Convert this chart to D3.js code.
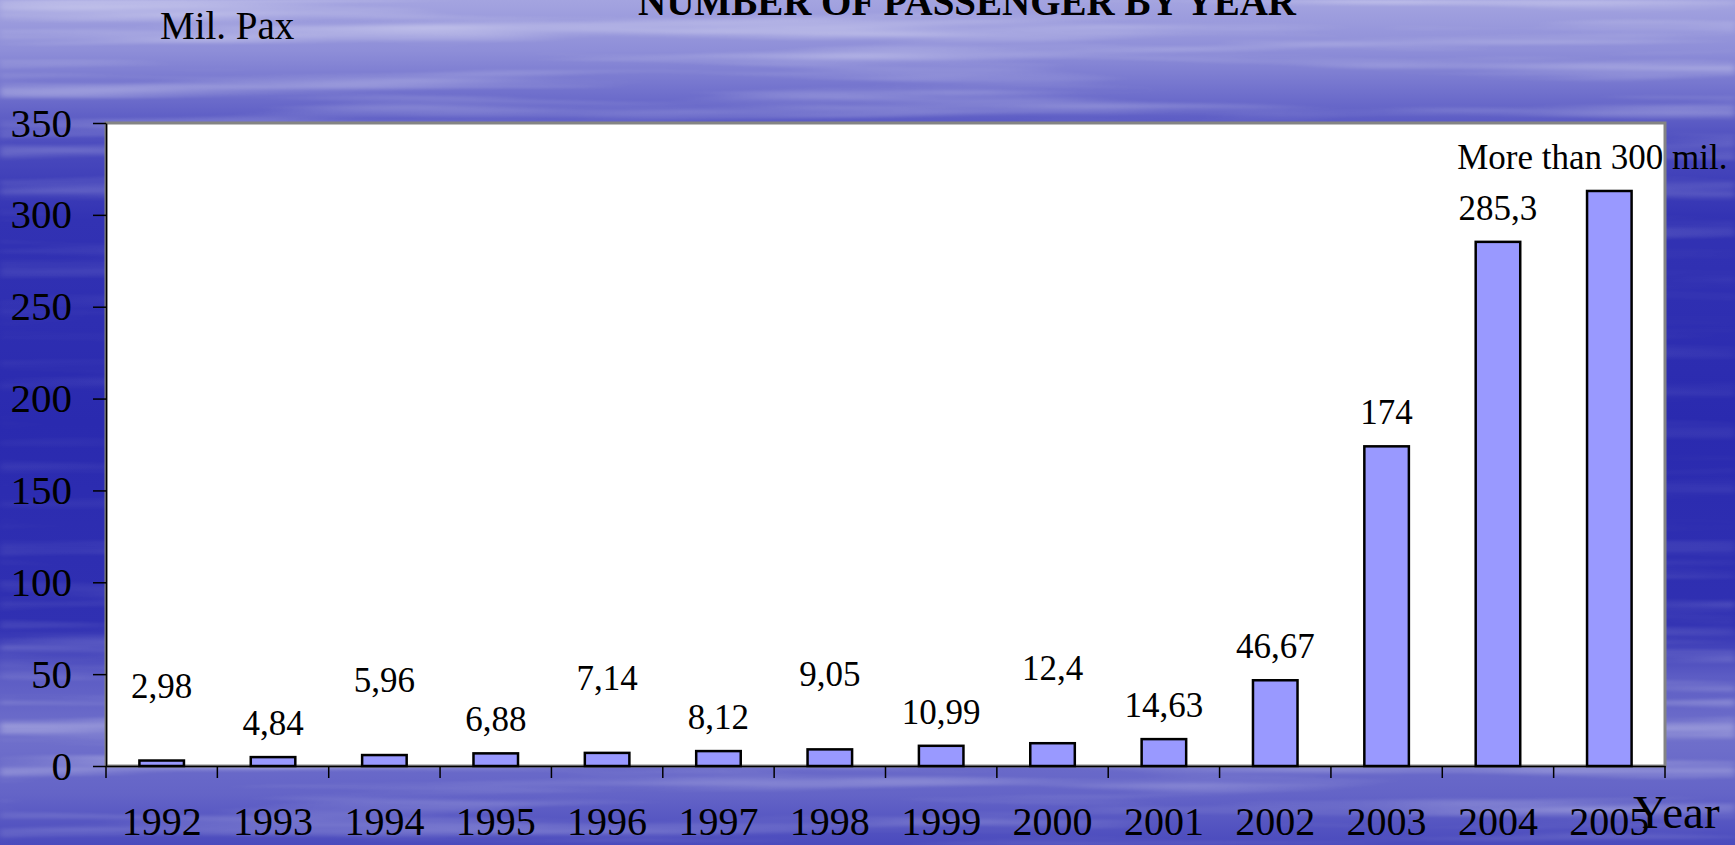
<!DOCTYPE html>
<html>
<head>
<meta charset="utf-8">
<script src="https://cdn.jsdelivr.net/npm/d3@7"></script>
<style>
  html, body { margin: 0; padding: 0; overflow: hidden; }
  svg { display: block; font-family: 'Liberation Serif', 'Times New Roman', serif; }
</style>
</head>
<body>
<div class="canvas"></div>
<script>
// data
const years = ['1992', '1993', '1994', '1995', '1996', '1997', '1998',
	'1999', '2000', '2001', '2002', '2003', '2004', '2005'];
const passengers = [2.98, 4.84, 5.96, 6.88, 7.14, 8.12, 9.05,
	10.99, 12.4, 14.63, 46.67, 174, 285.3, 313];
const valueLabels = ['2,98', '4,84', '5,96', '6,88', '7,14', '8,12', '9,05',
	'10,99', '12,4', '14,63', '46,67', '174', '285,3', 'More than 300 mil.'];
const yTicks = [0, 50, 100, 150, 200, 250, 300, 350];

const width = 1735;
const height = 845;

const svg = d3.select('.canvas')
	.append('svg')
	.attr('width', width)
	.attr('height', height);

// background: blue water with horizontal streaks
const defs = svg.append('defs');

const bg = defs.append('linearGradient')
	.attr('id', 'bg')
	.attr('x1', 0).attr('y1', 0).attr('x2', 0).attr('y2', 1);
[
	[0, '#a4a4e0'], [0.06, '#8e8ed8'], [0.12, '#6a6aca'], [0.17, '#4c4cbe'],
	[0.26, '#3232b3'], [0.5, '#2a2aaf'], [0.74, '#3030b2'], [0.8, '#5c5cc4'],
	[0.87, '#7070cb'], [0.94, '#6464c7'], [1, '#4a4abd']
].forEach(s => bg.append('stop').attr('offset', s[0]).attr('stop-color', s[1]));

const streak = defs.append('filter')
	.attr('id', 'streak')
	.attr('x', 0).attr('y', 0).attr('width', '100%').attr('height', '100%');
streak.append('feTurbulence')
	.attr('type', 'fractalNoise')
	.attr('baseFrequency', '0.0018 0.05')
	.attr('numOctaves', 3)
	.attr('seed', 11);
streak.append('feColorMatrix')
	.attr('type', 'matrix')
	.attr('values', '0 0 0 0 1  0 0 0 0 1  0 0 0 0 1  2.0 0 0 0 -0.92');
streak.append('feGaussianBlur').attr('stdDeviation', '3 1');

const fade = defs.append('linearGradient')
	.attr('id', 'fade')
	.attr('x1', 0).attr('y1', 0).attr('x2', 0).attr('y2', 1);
[[0, 0.5], [0.12, 0.4], [0.22, 0.25], [0.35, 0.1], [0.6, 0.1], [0.75, 0.3], [0.88, 0.5], [1, 0.3]]
	.forEach(s => fade.append('stop').attr('offset', s[0])
		.attr('stop-color', 'white').attr('stop-opacity', s[1]));
defs.append('mask').attr('id', 'fadeMask')
	.append('rect').attr('width', width).attr('height', height).attr('fill', 'url(#fade)');

svg.append('rect')
	.attr('width', width)
	.attr('height', height)
	.attr('fill', 'url(#bg)');

svg.append('rect')
	.attr('width', width)
	.attr('height', height)
	.attr('filter', 'url(#streak)')
	.attr('mask', 'url(#fadeMask)');

// margins around the plot box
const margin = { top: 123, right: 70, bottom: 79, left: 106 };
const graphWidth = width - margin.left - margin.right;
const graphHeight = height - margin.top - margin.bottom;

const graph = svg.append('g')
	.attr('transform', `translate(${margin.left}, ${margin.top})`);

graph.append('rect')
	.attr('width', graphWidth)
	.attr('height', graphHeight)
	.attr('fill', '#ffffff')
	.attr('stroke', '#848484')
	.attr('stroke-width', 3);

const y = d3.scaleLinear()
	.domain([0, 350])
	.range([graphHeight, 0]);

const x = d3.scaleBand()
	.domain(years)
	.range([0, graphWidth])
	.paddingInner(0.6)
	.paddingOuter(0.3);

// bars
graph.selectAll('rect.bar')
	.data(passengers)
	.enter()
	.append('rect')
	.attr('class', 'bar')
	.attr('x', (d, i) => x(years[i]))
	.attr('y', d => y(d))
	.attr('width', x.bandwidth())
	.attr('height', d => graphHeight - y(d))
	.attr('fill', '#9999ff')
	.attr('stroke', '#000')
	.attr('stroke-width', 2.5);

// value labels, the small early ones are staggered like on the slide
const lift = i => (i < 10 && i % 2 === 0) ? 41 : 0;
graph.selectAll('text.value')
	.data(passengers)
	.enter()
	.append('text')
	.attr('class', 'value')
	.attr('x', (d, i) => x(years[i]) + x.bandwidth() / 2)
	.attr('y', (d, i) => y(d) - 22 - lift(i))
	.attr('dx', (d, i) => i === passengers.length - 1 ? -17 : 0)
	.attr('text-anchor', 'middle')
	.attr('font-size', 35)
	.attr('fill', '#000')
	.text((d, i) => valueLabels[i]);

// y axis
const yAxis = d3.axisLeft(y)
	.tickValues(yTicks)
	.tickSize(13)
	.tickSizeOuter(0)
	.tickPadding(21);

const yAxisGroup = graph.append('g').call(yAxis);
yAxisGroup.select('.domain').attr('stroke', '#000').attr('stroke-width', 1.5);
yAxisGroup.selectAll('line').attr('stroke', '#000').attr('stroke-width', 1.5);
yAxisGroup.selectAll('text')
	.attr('font-size', 41)
	.attr('font-family', "'Liberation Serif', 'Times New Roman', serif")
	.attr('fill', '#000');

// x axis: labels under the bars, tick marks between categories
const xAxis = d3.axisBottom(x).tickSize(0);
const xAxisGroup = graph.append('g')
	.attr('transform', `translate(0, ${graphHeight})`)
	.call(xAxis);
xAxisGroup.select('.domain').attr('stroke', '#000').attr('stroke-width', 1.5);
xAxisGroup.selectAll('text')
	.attr('y', 69)
	.attr('dy', null)
	.attr('font-size', 40)
	.attr('font-family', "'Liberation Serif', 'Times New Roman', serif")
	.attr('fill', '#000');

const bounds = d3.range(years.length + 1).map(i => x.step() * i);
xAxisGroup.selectAll('line.bound')
	.data(bounds)
	.enter()
	.append('line')
	.attr('class', 'bound')
	.attr('x1', d => d).attr('x2', d => d)
	.attr('y1', 0).attr('y2', 12)
	.attr('stroke', '#000')
	.attr('stroke-width', 1.5);

// titles
svg.append('text')
	.attr('x', 967)
	.attr('y', 15)
	.attr('text-anchor', 'middle')
	.attr('font-size', 39)
	.attr('font-weight', 'bold')
	.text('NUMBER OF PASSENGER BY YEAR');

svg.append('text')
	.attr('x', 160)
	.attr('y', 39)
	.attr('font-size', 39)
	.text('Mil. Pax');

svg.append('text')
	.attr('x', 1633)
	.attr('y', 828)
	.attr('font-size', 47)
	.text('Year');
</script>
</body>
</html>
